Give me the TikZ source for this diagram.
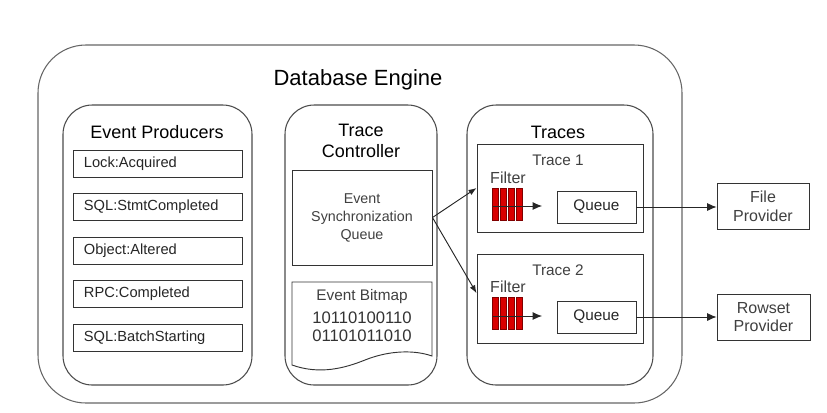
\documentclass[tikz,border=0pt]{standalone}
\usepackage{fontspec}
\setmainfont{Liberation Sans}
\usetikzlibrary{fit,arrows.meta,calc}
\begin{document}
\begin{tikzpicture}[x=0.75pt,y=-0.75pt,
  every node/.style={font=\fontsize{11}{13}\selectfont, text=black!85},
  container/.style={draw=black!70, line width=0.8pt, rounded corners=22pt, inner sep=0pt},
  sqbox/.style={draw=black!80, line width=0.7pt, inner sep=0pt, fill=white},
  title/.style={font=\fontsize{13.5}{16}\selectfont, text=black},
  arr/.style={-{Latex[length=6pt,width=4.5pt]}, draw=black!85, line width=0.7pt},
  farr/.style={-{Latex[length=7pt,width=6pt]}, draw=black!85, line width=0.7pt},
  bar/.style={fill=red!85!black, draw=red!50!black, line width=0.3pt},
  soft/.style={text=black!75}
]
\useasboundingbox (0,0) rectangle (827,412);

% outer container
\node[container, rounded corners=36pt, draw=black!60, fit={(38,45) (682,403)}] (engine) {};
\node[font=\fontsize{16.5}{19}\selectfont, text=black] (enginet) at (358,80) {Database Engine};

% Event producers
\node[container, fit={(63,105) (252,385)}] (prod) {};
\node[title] (prodt) at (157,132) {Event Producers};
\node[sqbox, fit={(73,150) (242,177)}] (p1) {};
\node[sqbox, fit={(73,193) (242,220)}] (p2) {};
\node[sqbox, fit={(73,237) (242,264)}] (p3) {};
\node[sqbox, fit={(73,280) (242,307)}] (p4) {};
\node[sqbox, fit={(73,324) (242,351)}] (p5) {};
\node[anchor=west] (p1t) at ([xshift=5pt]p1.west) {Lock:Acquired};
\node[anchor=west] (p2t) at ([xshift=5pt]p2.west) {SQL:StmtCompleted};
\node[anchor=west] (p3t) at ([xshift=5pt]p3.west) {Object:Altered};
\node[anchor=west] (p4t) at ([xshift=5pt]p4.west) {RPC:Completed};
\node[anchor=west] (p5t) at ([xshift=5pt]p5.west) {SQL:BatchStarting};

% Trace controller
\node[container, fit={(285,105) (437,385)}] (ctrl) {};
\node[title, align=center] (ctrlt) at (361,141) {Trace\\Controller};
\node[sqbox, fit={(292,170) (432,265)}] (esq) {};
\node[soft, align=center, font=\fontsize{10.7}{13.5}\selectfont] (esqt) at (esq.center) {Event\\Synchronization\\Queue};
\draw[draw=black!80, line width=0.7pt]
  (292,282) -- (432,282) -- (432,356)
  .. controls (415,350) and (390,350) .. (365,360)
  .. controls (345,368) and (320,375) .. (292,365) -- cycle;
\coordinate (bm) at (362,282);
\node[soft, font=\fontsize{11.5}{13}\selectfont, anchor=north] (bmt) at ([yshift=-2pt]bm) {Event Bitmap};
\node[font=\fontsize{12.5}{13.5}\selectfont, text=black!80, align=center, anchor=north] (bits) at ([yshift=1pt]bmt.south) {10110100110\\01101011010};

% Traces
\node[container, fit={(467,105) (653,385)}] (traces) {};
\node[title] (tracest) at (558,132) {Traces};
\node[sqbox, fill=none, fit={(477,144) (643,232)}] (t1) {};
\node[sqbox, fill=none, fit={(477,254) (643,343)}] (t2) {};
\node[soft, font=\fontsize{11.5}{13}\selectfont] (t1t) at (558,160) {Trace 1};
\node[soft, font=\fontsize{11.5}{13}\selectfont] (t2t) at (558,270) {Trace 2};
\node[soft, font=\fontsize{12}{13}\selectfont] (f1t) at (508,178) {Filter};
\node[soft, font=\fontsize{12}{13}\selectfont] (f2t) at (508,287) {Filter};
\foreach \i in {0,1,2,3}{
  \filldraw[bar] (492+\i*8,188) rectangle ++(6.5,32);
  \filldraw[bar] (492+\i*8,297) rectangle ++(6.5,32);
}
\coordinate (f1s) at (493,206);
\coordinate (f2s) at (493,316);
\node[sqbox, fit={(557,191) (636,223)}] (q1) {};
\node[sqbox, fit={(557,301) (636,333)}] (q2) {};
\node[font=\fontsize{11.5}{13}\selectfont] (q1t) at (q1.center) {Queue};
\node[font=\fontsize{11.5}{13}\selectfont] (q2t) at (q2.center) {Queue};
\draw[farr] (f1s) -- (542,206);
\draw[farr] (f2s) -- (542,316);

% Providers
\node[sqbox, fit={(717,183) (809,229)}] (fp) {};
\node[sqbox, fit={(717,294) (810,340)}] (rp) {};
\node[align=center, soft, font=\fontsize{12}{14}\selectfont] (fpt) at (fp.center) {File\\Provider};
\node[align=center, soft, font=\fontsize{12}{14}\selectfont] (rpt) at (rp.center) {Rowset\\Provider};

% connectors
\draw[arr] (esq.east) -- (t1.west);
\draw[arr] (esq.east) -- ([yshift=4pt]t2.west);
\draw[farr] (q1.east) -- (q1.east -| fp.west);
\draw[farr] (q2.east) -- (q2.east -| rp.west);
\end{tikzpicture}
\end{document}
